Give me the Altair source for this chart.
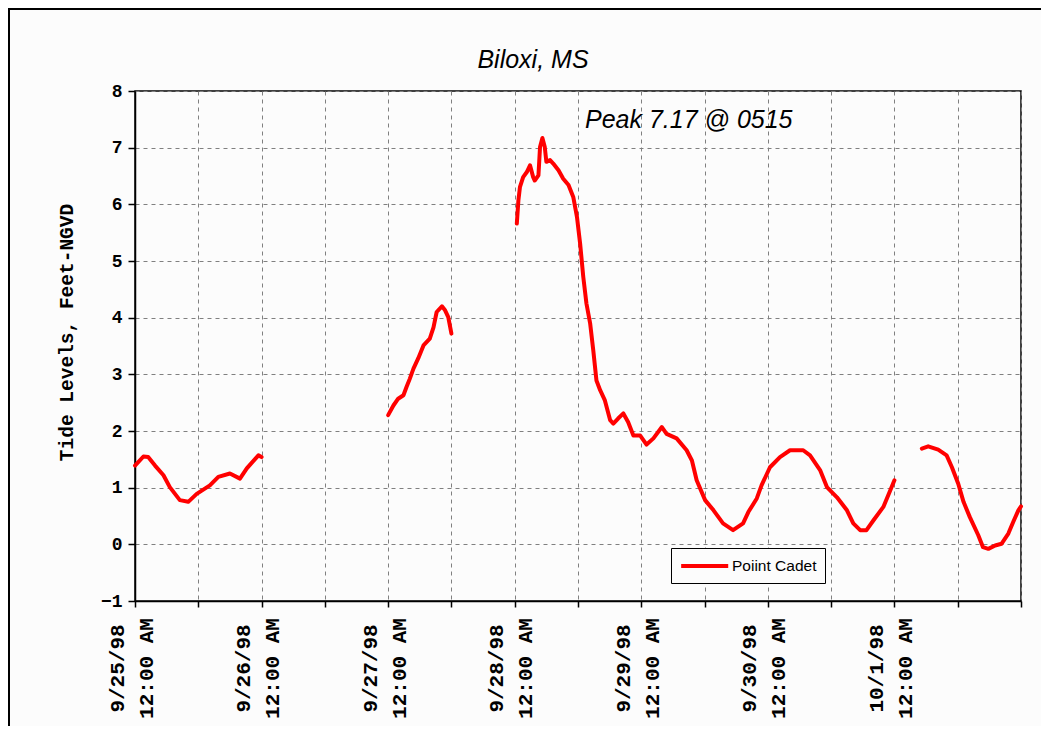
import altair as alt
import pandas as pd

# Hours since 9/25/98 12:00 AM and tide levels (ft NGVD), one list pair per recorded segment
seg1_hours = [0.0, 1.6, 2.5, 3.8, 5.4, 6.6, 8.5, 10.1, 11.7, 14.2, 15.8, 18.0, 19.9, 21.2, 23.4, 24.0]
seg1_level = [1.39, 1.55, 1.54, 1.39, 1.22, 1.01, 0.78, 0.75, 0.89, 1.04, 1.19, 1.25, 1.16, 1.34, 1.57, 1.54]

seg2_hours = [48.0, 49.0, 49.9, 50.9, 51.5, 52.1, 52.8, 53.7, 54.7, 55.9, 56.6, 57.2, 58.2, 58.8, 59.4, 60.0]
seg2_level = [2.28, 2.45, 2.57, 2.63, 2.78, 2.92, 3.10, 3.28, 3.51, 3.63, 3.83, 4.10, 4.20, 4.13, 4.01, 3.72]

seg3_hours = [72.4, 72.7, 73.0, 73.6, 74.3, 74.9, 75.5, 75.8, 76.5, 76.8, 77.25, 77.7, 78.0, 78.7,
              79.3, 80.3, 81.2, 82.2, 83.1, 83.8, 84.4, 85.0, 85.6, 86.3, 86.9, 87.5, 88.2, 89.1,
              90.1, 90.7, 91.6, 92.6, 93.5, 94.5, 95.8, 97.0, 98.3, 99.9, 100.8, 102.7, 104.6,
              105.6, 106.5, 108.1, 109.7, 111.5, 113.4, 115.3, 116.3, 117.9, 118.8, 120.4, 122.3,
              124.2, 126.7, 128.0, 129.9, 131.2, 133.1, 135.0, 136.2, 137.5, 138.7, 140.0, 141.9,
              143.2, 144.0]
seg3_level = [5.66, 6.07, 6.31, 6.48, 6.57, 6.69, 6.48, 6.42, 6.51, 7.01, 7.17, 7.01, 6.75, 6.78,
              6.72, 6.60, 6.45, 6.34, 6.13, 5.78, 5.31, 4.72, 4.25, 3.90, 3.42, 2.89, 2.72, 2.54,
              2.19, 2.13, 2.22, 2.31, 2.16, 1.92, 1.92, 1.76, 1.87, 2.07, 1.95, 1.87, 1.66,
              1.48, 1.13, 0.78, 0.60, 0.37, 0.25, 0.37, 0.57, 0.81, 1.04, 1.36, 1.54,
              1.66, 1.66, 1.57, 1.31, 1.01, 0.83, 0.60, 0.37, 0.25, 0.25, 0.42, 0.66,
              0.95, 1.13]

seg4_hours = [149.2, 150.4, 152.3, 153.9, 154.9, 156.1, 157.1, 158.3, 159.9, 160.8, 161.8, 163.1,
              164.3, 165.6, 166.5, 167.5, 168.0]
seg4_level = [1.69, 1.73, 1.67, 1.57, 1.36, 1.07, 0.75, 0.48, 0.16, -0.05, -0.08, -0.02,
              0.01, 0.19, 0.39, 0.60, 0.67]

series_name = "Poiint Cadet"
chart_title = "Biloxi, MS"
peak_note = "Peak 7.17 @ 0515"
y_title = "Tide Levels, Feet-NGVD"

start = pd.Timestamp("1998-09-25 00:00")
rows = []
for seg, (hs, vs) in enumerate([(seg1_hours, seg1_level), (seg2_hours, seg2_level),
                                (seg3_hours, seg3_level), (seg4_hours, seg4_level)]):
    for h, v in zip(hs, vs):
        t = start + pd.Timedelta(hours=h)
        rows.append({"time": t.strftime("%Y-%m-%dT%H:%M:%S"), "level": v, "seg": seg,
                     "series": series_name})
df = pd.DataFrame(rows)


def dt(ts):
    return alt.DateTime(year=ts.year, month=ts.month, date=ts.day, hours=ts.hour, minutes=ts.minute)


tick_vals = [dt(start + pd.Timedelta(hours=12 * i)) for i in range(15)]
x_domain = [dt(start), dt(start + pd.Timedelta(hours=168))]
# last midnight tick (domain end) carries no label in the reference
end_ms_expr = "datetime(1998, 9, 2, 0, 0)"  # Vega months are 0-based: 9 = October

mono = "Liberation Mono"
sans = "Liberation Sans"

x_enc = alt.X(
    "time:T",
    scale=alt.Scale(domain=x_domain, nice=False),
    axis=alt.Axis(
        values=tick_vals,
        labelExpr=("(hours(datum.value) == 0 && datum.value < " + end_ms_expr + ") ? "
                   "[timeFormat(datum.value, '%-m/%-d/%y'), '12:00 AM'] : ''"),
        labelAngle=270,
        labelAlign="center",
        labelBaseline="middle",
        labelPadding=61,
        labelOffset=-18,
        labelLineHeight=29,
        labelFont=mono,
        labelFontWeight="bold",
        labelFontSize=21,
        labelColor="black",
        labelOverlap=False,
        labelFlush=False,
        tickSize=6,
        title=None,
    ),
)

y_enc = alt.Y(
    "level:Q",
    scale=alt.Scale(domain=[-1, 8], nice=False),
    axis=alt.Axis(
        values=list(range(-1, 9)),
        format="d",
        labelFont=mono,
        labelFontWeight="bold",
        labelFontSize=18,
        labelColor="black",
        labelPadding=6,
        tickSize=7,
        title=y_title,
        titleFont=mono,
        titleFontWeight="bold",
        titleFontSize=19.5,
        titleColor="black",
        titleAngle=270,
        titleAlign="center",
        titleBaseline="alphabetic",
        titleX=-63,
        titleY=241,
    ),
)

line = alt.Chart(df).mark_line(strokeWidth=4, strokeJoin="round", strokeCap="round").encode(
    x=x_enc,
    y=y_enc,
    detail="seg:N",
    color=alt.Color(
        "series:N",
        scale=alt.Scale(domain=[series_name], range=["#ff0000"]),
        legend=alt.Legend(
            title=None,
            orient="none",
            legendX=536,
            legendY=457,
            padding=8,
            strokeColor="black",
            fillColor="#fcfcfc",
            symbolType="M-1,0L5,0",
            symbolSize=246,
            symbolStrokeWidth=4,
            labelFont=sans,
            labelFontSize=15.5,
            labelColor="black",
            labelOffset=33,
        ),
    ),
)

note_df = pd.DataFrame({"time": ["1998-09-28T13:20:00"], "level": [7.48], "text": [peak_note]})
note = alt.Chart(note_df).mark_text(
    align="left", baseline="middle", font=sans, fontSize=25, fontStyle="italic", color="black"
).encode(x="time:T", y="level:Q", text="text:N")

title_df = pd.DataFrame({"text": [chart_title]})
title = alt.Chart(title_df).mark_text(
    align="center", baseline="alphabetic", font=sans, fontSize=25, fontStyle="italic", color="black"
).encode(x=alt.value(398), y=alt.value(-23), text="text:N")

frame_df = pd.DataFrame({"k": [0]})
frame_top = alt.Chart(frame_df).mark_rule(color="black", strokeWidth=2).encode(
    x=alt.value(-127), x2=alt.value(920), y=alt.value(-82)
)
frame_left = alt.Chart(frame_df).mark_rule(color="black", strokeWidth=2).encode(
    x=alt.value(-126), y=alt.value(-83), y2=alt.value(700)
)

chart = (
    alt.layer(line, note, title, frame_top, frame_left)
    .properties(
        width=886,
        height=510,
        autosize=alt.AutoSizeParams(type="none"),
        padding={"left": 127, "top": 83, "right": 20, "bottom": 125},
        background="#fcfcfc",
    )
    .configure_view(stroke="black", strokeWidth=1.5, fill="#fcfcfc")
    .configure_axis(
        domainColor="black",
        domainWidth=1.5,
        tickColor="black",
        tickWidth=1.5,
        gridColor="#808080",
        gridDash=[4, 4],
        gridWidth=1,
        grid=True,
    )
)

chart.save("out.html", embed_options={"renderer": "svg", "actions": False})
